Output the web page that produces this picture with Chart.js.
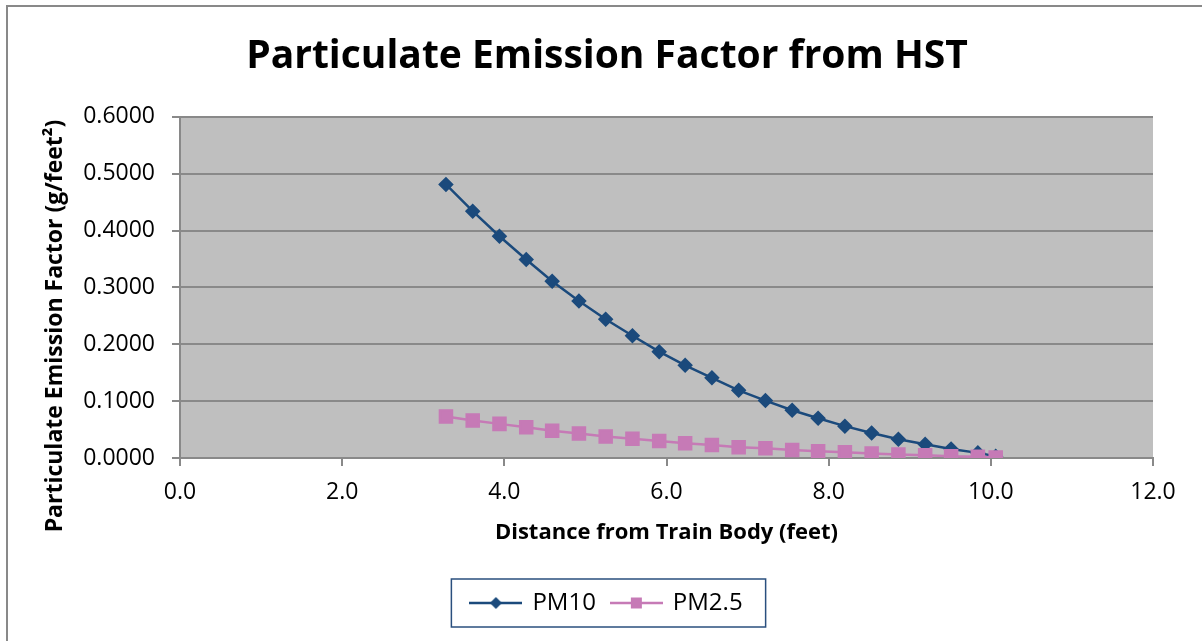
<!DOCTYPE html>
<html>
<head>
<meta charset="utf-8">
<script src="https://cdn.jsdelivr.net/npm/chart.js@4/dist/chart.umd.min.js"></script>
<style>
  html, body { margin: 0; padding: 0; background: #fff; }
  #wrap { width: 1202px; height: 641px; }
</style>
</head>
<body>
<div id="wrap"><canvas id="EmissionChart" width="1202" height="641"></canvas></div>
<script>
let DistanceFeet = [3.28, 3.61, 3.94, 4.27, 4.59, 4.92, 5.25, 5.58, 5.91, 6.23, 6.56, 6.89, 7.22, 7.55, 7.87, 8.20, 8.53, 8.86, 9.19, 9.51, 9.84, 10.06];
let PM10 = [0.481, 0.434, 0.390, 0.349, 0.311, 0.276, 0.244, 0.215, 0.187, 0.163, 0.141, 0.119, 0.101, 0.084, 0.070, 0.056, 0.044, 0.033, 0.024, 0.016, 0.009, 0.003];
let PM25 = [0.073, 0.066, 0.060, 0.054, 0.048, 0.043, 0.038, 0.034, 0.030, 0.026, 0.023, 0.019, 0.017, 0.014, 0.012, 0.010, 0.008, 0.006, 0.005, 0.003, 0.002, 0.001];
let SeriesNames = ["PM10", "PM2.5"];
let YTicks = [0, 0.1, 0.2, 0.3, 0.4, 0.5, 0.6];
let XTicks = [0, 2, 4, 6, 8, 10, 12];

const navy = "#1b4a7c";
const pink = "#c67ab6";
const gridGray = "#898989";
const plotGray = "#bfbfbf";
const font = "'Open Sans', sans-serif";

function toPoints(ys){
    return ys.map((y, i) => ({x: DistanceFeet[i], y: y}));
}

// small picture of line + marker for the legend
function legendIcon(color, style){
    let c = document.createElement("canvas");
    c.width = 53; c.height = 16;
    let ctx = c.getContext("2d");
    ctx.strokeStyle = color;
    ctx.lineWidth = 2.5;
    ctx.beginPath(); ctx.moveTo(0, 8); ctx.lineTo(53, 8); ctx.stroke();
    ctx.fillStyle = color;
    ctx.beginPath();
    if (style === "diamond") {
        ctx.moveTo(26.5, 2); ctx.lineTo(32.5, 8); ctx.lineTo(26.5, 14); ctx.lineTo(20.5, 8);
    } else {
        ctx.rect(21, 2.5, 11, 11);
    }
    ctx.fill();
    return c;
}

const frame = {
    id: "frame",
    beforeDraw(chart){
        let ctx = chart.ctx, a = chart.chartArea;
        ctx.save();
        ctx.fillStyle = "#fff";
        ctx.fillRect(0, 0, chart.width, chart.height);
        ctx.strokeStyle = gridGray;
        ctx.lineWidth = 2;
        ctx.strokeRect(7, 6, 1400, 1000);
        ctx.fillStyle = plotGray;
        ctx.fillRect(a.left, a.top, a.right - a.left, a.bottom - a.top);
        ctx.restore();
    },
    afterDraw(chart){
        let ctx = chart.ctx;
        ctx.save();
        // y axis title
        ctx.translate(55, 326);
        ctx.rotate(-Math.PI / 2);
        ctx.font = "bold 23px " + font;
        ctx.fillStyle = "#000";
        ctx.textAlign = "center";
        ctx.textBaseline = "middle";
        ctx.fillText("Particulate Emission Factor (g/feet²)", 0, 0);
        ctx.restore();
        // legend border
        let boxes = chart.legend.legendHitBoxes;
        if (boxes && boxes.length) {
            let first = boxes[0], last = boxes[boxes.length - 1];
            let mid = first.top + first.height / 2;
            let left = first.left - 20;
            ctx.save();
            ctx.strokeStyle = "#2a4f7e";
            ctx.lineWidth = 1.5;
            ctx.strokeRect(left, mid - 24, last.left + last.width + 23 - left, 48);
            ctx.restore();
        }
    }
};

new Chart("EmissionChart", {
    type: "scatter",
    data: {
        datasets: [{
            label: SeriesNames[0],
            data: toPoints(PM10),
            order: 2,
            showLine: true,
            borderColor: navy,
            backgroundColor: navy,
            borderWidth: 2.5,
            pointStyle: "rectRot",
            pointRadius: 6,
            pointHoverRadius: 6
        }, {
            label: SeriesNames[1],
            data: toPoints(PM25),
            order: 1,
            showLine: true,
            borderColor: pink,
            backgroundColor: pink,
            borderWidth: 2.5,
            pointStyle: "rect",
            pointRadius: 8.5,
            pointHoverRadius: 8.5
        }]
    },
    options: {
        responsive: false,
        animation: false,
        layout: {padding: {left: 61, right: 49, top: 0, bottom: 16}},
        plugins: {
            title: {
                display: true,
                text: "Particulate Emission Factor from HST",
                color: "#000",
                font: {family: font, size: 39, weight: "bold"},
                padding: {top: 33, bottom: 37}
            },
            legend: {
                display: true,
                position: "bottom",
                labels: {
                    color: "#000",
                    font: {family: font, size: 24},
                    usePointStyle: true,
                    pointStyleWidth: 49,
                    padding: 16,
                    generateLabels(chart){
                        return SeriesNames.map((name, i) => ({
                            text: name,
                            datasetIndex: i,
                            pointStyle: legendIcon(i === 0 ? navy : pink, i === 0 ? "diamond" : "square"),
                            fillStyle: "transparent",
                            strokeStyle: "transparent",
                            lineWidth: 0
                        }));
                    }
                }
            },
            tooltip: {enabled: false}
        },
        scales: {
            x: {
                type: "linear",
                min: 0,
                max: 12,
                afterFit(scale){ scale.height = 117; },
                afterBuildTicks(scale){ scale.ticks = XTicks.map(v => ({value: v})); },
                ticks: {
                    color: "#000",
                    font: {family: font, size: 23},
                    padding: 13,
                    callback: v => v.toFixed(1)
                },
                grid: {color: "rgba(0,0,0,0)", tickColor: gridGray, tickLength: 8, lineWidth: 2},
                border: {display: true, color: gridGray, width: 2},
                title: {
                    display: true,
                    text: "Distance from Train Body (feet)",
                    color: "#000",
                    font: {family: font, size: 22, weight: "bold"},
                    padding: {top: 0, bottom: 29}
                }
            },
            y: {
                min: 0,
                max: 0.6,
                afterFit(scale){ scale.width = 119; },
                afterBuildTicks(scale){ scale.ticks = YTicks.map(v => ({value: v})); },
                ticks: {
                    color: "#000",
                    font: {family: font, size: 23},
                    padding: 17,
                    callback: v => v.toFixed(4)
                },
                grid: {color: gridGray, tickColor: gridGray, tickLength: 8, lineWidth: 2},
                border: {display: true, color: gridGray, width: 2}
            }
        }
    },
    plugins: [frame]
});
</script>
</body>
</html>
